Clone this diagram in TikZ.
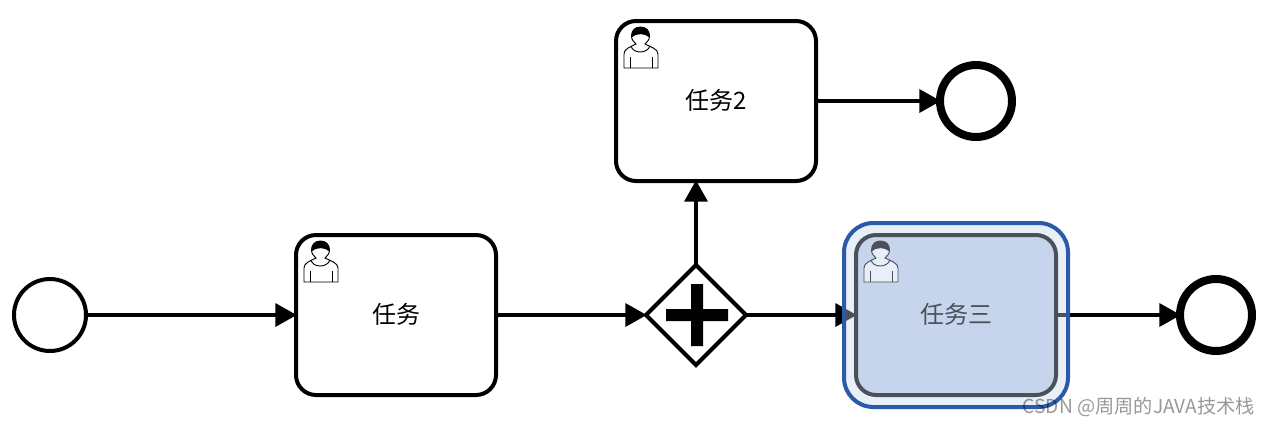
\documentclass[tikz,border=0pt]{standalone}
\usepackage{fontspec}
\setmainfont{Noto Sans CJK SC}
\usetikzlibrary{arrows.meta,shapes.geometric}
\definecolor{hlfill}{HTML}{C3D5EF}
\definecolor{hlline}{HTML}{2A5AA8}
\definecolor{taskblue}{HTML}{C8D5EA}
\tikzset{
  x=0.75pt,y=-0.75pt,
  taskbox/.style={draw=black,line width=3pt,rounded corners=15pt,minimum width=150pt,minimum height=120pt,inner sep=0pt,outer sep=0pt,font=\fontsize{18pt}{22pt}\selectfont,fill=white},
  startev/.style={circle,draw=black,line width=3pt,minimum size=54pt,inner sep=0pt,outer sep=0pt,fill=white},
  endev/.style={circle,draw=black,line width=6pt,minimum size=54pt,inner sep=0pt,outer sep=0pt,fill=white},
  gate/.style={diamond,aspect=1,draw=black,line width=3pt,minimum size=75pt,inner sep=0pt,outer sep=0pt,fill=white},
  flow/.style={draw=black,line width=3pt,-{Triangle[length=16pt,width=17pt]},shorten >=-0.6pt},
}
\newcommand{\tasklabel}[1]{\raisebox{-6pt}[0pt][0pt]{#1}}
\newcommand{\usericon}[2]{%
  \begin{scope}[shift={(#1,#2)}]
    \draw[line width=0.7pt,fill=white] (8,47) -- (8,33) .. controls (8,28) and (14,26) .. (20,23)
      .. controls (18,21) and (15.5,19) .. (15.5,15) .. controls (15.5,9.5) and (19,6) .. (24.5,6)
      .. controls (30,6) and (33.5,9.5) .. (33.5,15) .. controls (33.5,19) and (31,21) .. (29,23)
      .. controls (35,26) and (42,28) .. (42,33) -- (42,47) -- cycle;
    \fill[black] (15.5,16.5) -- (15.5,15) .. controls (15.5,9.5) and (19,6) .. (24.5,6) .. controls (30,6) and (33.5,9.5) .. (33.5,15) -- (33.5,16.5)
      .. controls (29,12) and (20,12) .. (15.5,16.5) -- cycle;
    \draw[line width=0.7pt] (14,36) -- (14,47) (36.5,36) -- (36.5,47);
    \draw[line width=0.7pt] (15,25) .. controls (17,33) and (31,33) .. (34,25);
  \end{scope}}
\begin{document}
\begin{tikzpicture}
\useasboundingbox[fill=white] (0,0) rectangle (1270,426);
\node[startev] (start) at (50,315) {};
\node[taskbox] (t1) at (396,315) {\tasklabel{任务}};
\node[taskbox] (t2) at (716,101) {\tasklabel{任务2}};
\node[gate] (gw) at (696,315) {};
\node[taskbox,fill=taskblue] (t3) at (956,315) {\tasklabel{任务三}};
\node[endev] (e1) at (976,101) {};
\node[endev] (e2) at (1216,315) {};
\fill[black] (691,284) rectangle (703,346) (666,309) rectangle (728,321);
\usericon{296}{235}
\usericon{616}{21}
\usericon{856}{235}
\draw[flow] (start) -- (t1);
\draw[flow] (t1) -- (gw);
\draw[flow] (gw.north) -- (t2.south -| gw.north);
\draw[flow] (t2) -- (e1);
\draw[flow] (gw) -- (t3);
\draw[flow] (t3) -- (e2);
\node[draw=none,fill=hlfill,fill opacity=0.38,rounded corners=22pt,minimum width=168pt,minimum height=138pt,inner sep=0pt,outer sep=0pt] (hl) at (956,315) {};
\node[draw=hlline,line width=3pt,rounded corners=22pt,minimum width=168pt,minimum height=138pt,inner sep=0pt,outer sep=0pt] (hlb) at (956,315) {};
\node[anchor=east,text=black,text opacity=0.4,font=\fontsize{14.4pt}{17pt}\selectfont,inner sep=0pt] (wm) at (1255,407) {CSDN @周周的JAVA技术栈};
\end{tikzpicture}
\end{document}
